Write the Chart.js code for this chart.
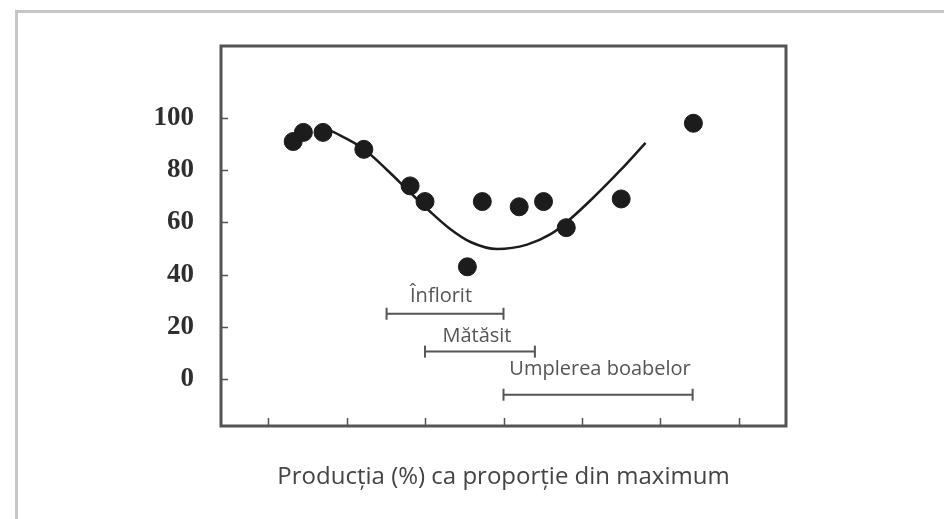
<!DOCTYPE html>
<html lang="ro">
<head>
    <meta charset="UTF-8">
    <title>Productia ca proportie din maximum</title>
    <script src="https://cdn.jsdelivr.net/npm/chart.js"></script>
    <style>
        html, body { margin: 0; padding: 0; background: #fff; }
        #wrap { width: 944px; height: 519px; position: relative; }
    </style>
</head>
<body>
    <div id="wrap"><canvas id="prodChart"></canvas></div>

    <script>
        // observed points
        const pointX = [1.32, 1.45, 1.70, 2.22, 2.81, 3.00, 3.54, 3.73, 4.20, 4.51, 4.80, 5.50, 6.42];
        const pointY = [91, 94.5, 94.5, 88, 74, 68, 43, 68, 66, 68, 58, 69, 98];

        // fitted curve
        const curveX = [1.78, 2.21, 2.52, 2.81, 3.07, 3.32, 3.58, 3.92, 4.30, 4.60, 4.80, 5.11, 5.49, 5.81];
        const curveY = [95.5, 88.3, 80, 71.5, 64, 57.5, 52.5, 49.8, 51.5, 55.5, 60, 68.5, 80, 90.5];

        // phenological phases
        const phaseNames = ['Înflorit', 'Mătăsit', 'Umplerea boabelor'];
        const phaseStart = [2.51, 3.0, 4.0];
        const phaseEnd = [4.0, 4.4, 6.41];
        const phaseLevel = [25, 10.5, -6];

        // axes
        const yTicks = [0, 20, 40, 60, 80, 100];
        const xTicks = [1, 2, 3, 4, 5, 6, 7];
        const xTitle = 'Producția (%) ca proporție din maximum';

        const ink = '#1c1c1c';
        const grey = '#555';

        const datasets = [{
            label: 'curve',
            data: curveX.map((x, i) => ({ x: x, y: curveY[i] })),
            showLine: true,
            borderColor: ink,
            borderWidth: 2.5,
            pointRadius: 0,
            cubicInterpolationMode: 'monotone',
            order: 2
        }, {
            label: 'points',
            data: pointX.map((x, i) => ({ x: x, y: pointY[i] })),
            showLine: false,
            pointRadius: 9,
            pointBackgroundColor: ink,
            pointBorderColor: ink,
            order: 1
        }];

        phaseNames.forEach((name, i) => {
            datasets.push({
                label: name,
                data: [{ x: phaseStart[i], y: phaseLevel[i] }, { x: phaseEnd[i], y: phaseLevel[i] }],
                showLine: true,
                borderColor: grey,
                borderWidth: 2,
                pointStyle: 'line',
                rotation: 90,
                pointRadius: 6,
                pointBorderColor: grey,
                pointBorderWidth: 2,
                order: 3
            });
        });

        // white page, outer grey frame, inner plot box with inward ticks, phase labels
        const decor = {
            id: 'decor',
            beforeDraw(chart) {
                const c = chart.ctx;
                c.save();
                c.fillStyle = '#fff';
                c.fillRect(0, 0, chart.width, chart.height);
                c.strokeStyle = '#c6c6c6';
                c.lineWidth = 3;
                c.beginPath();
                c.moveTo(16.5, chart.height);
                c.lineTo(16.5, 11.5);
                c.lineTo(chart.width, 11.5);
                c.stroke();
                c.restore();
            },
            afterDatasetsDraw(chart) {
                const c = chart.ctx;
                const a = chart.chartArea;
                const xs = chart.scales.x, ys = chart.scales.y;
                c.save();
                c.strokeStyle = '#545454';
                c.lineWidth = 3;
                c.strokeRect(a.left, a.top, a.right - a.left, a.bottom - a.top);
                c.lineWidth = 1.5;
                c.beginPath();
                yTicks.forEach(v => {
                    const p = Math.round(ys.getPixelForValue(v)) + 0.5;
                    c.moveTo(a.left, p);
                    c.lineTo(a.left + 7, p);
                });
                xTicks.forEach(v => {
                    const p = Math.round(xs.getPixelForValue(v)) + 0.5;
                    c.moveTo(p, a.bottom);
                    c.lineTo(p, a.bottom - 8);
                });
                c.stroke();

                const lift = [17, 15, 25];
                const shift = [-4, -3, 2];
                c.fillStyle = grey;
                c.font = '20px "Open Sans"';
                c.textAlign = 'center';
                c.textBaseline = 'middle';
                phaseNames.forEach((name, i) => {
                    const cx = xs.getPixelForValue((phaseStart[i] + phaseEnd[i]) / 2) + shift[i];
                    const cy = ys.getPixelForValue(phaseLevel[i]) - lift[i];
                    c.fillText(name, cx, cy);
                });
                c.restore();
            }
        };

        new Chart(document.getElementById('prodChart'), {
            type: 'scatter',
            data: { datasets: datasets },
            options: {
                responsive: true,
                maintainAspectRatio: false,
                animation: false,
                layout: { padding: { left: 0, right: 158, top: 46, bottom: 0 } },
                plugins: {
                    legend: { display: false },
                    tooltip: { enabled: false }
                },
                scales: {
                    x: {
                        type: 'linear',
                        min: 0.4,
                        max: 7.6,
                        afterBuildTicks: s => { s.ticks = xTicks.map(v => ({ value: v })); },
                        afterFit: s => { s.height = 93; },
                        grid: { display: false, drawTicks: false },
                        border: { display: false },
                        ticks: { display: false },
                        title: {
                            display: true,
                            text: xTitle,
                            color: '#444',
                            font: { family: 'Open Sans', size: 24 },
                            padding: { top: 0, bottom: 27 }
                        }
                    },
                    y: {
                        min: -18,
                        max: 127.6,
                        afterBuildTicks: s => { s.ticks = yTicks.map(v => ({ value: v })); },
                        afterFit: s => { s.width = 221; },
                        grid: { display: false, drawTicks: false },
                        border: { display: false },
                        ticks: {
                            padding: 27,
                            color: '#2e2e2e',
                            font: { family: 'Liberation Serif', size: 27, weight: 'bold' }
                        }
                    }
                }
            },
            plugins: [decor]
        });
    </script>
</body>
</html>
